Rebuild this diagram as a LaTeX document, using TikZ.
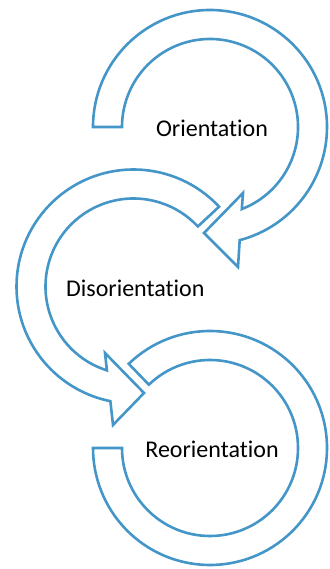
\documentclass[tikz,border=0pt]{standalone}
\usepackage{fontspec}
\setmainfont[Ligatures=NoCommon]{Carlito}
\definecolor{arrowblue}{RGB}{68,150,200}
\begin{document}
\begin{tikzpicture}[x=1pt,y=1pt,
  circarrow/.style={draw=arrowblue,line width=2.6pt,fill=white,line join=miter},
  lbl/.style={font=\fontsize{24}{28}\selectfont,text=black,anchor=base,inner sep=0pt}]
\useasboundingbox (0,0) rectangle (329,569);
% circle 1: Orientation
\begin{scope}[shift={(210,442)}]
  \coordinate (c1) at (0,0);
  \draw[circarrow] (180:117) arc[start angle=180,end angle=-75.3,radius=117]
    -- (28,-140) -- (-6,-106) -- (33,-66)
    -- (-68.8:88) arc[start angle=-68.8,end angle=180,radius=88] -- cycle;
\end{scope}
% circle 2: Disorientation
\begin{scope}[shift={(133.5,282.5)}]
  \coordinate (c2) at (0,0);
  \draw[circarrow] (43:117) arc[start angle=43,end angle=258.6,radius=117]
    -- (-20.5,-138.5) -- (10.5,-106.5) -- (-28.5,-66.5)
    -- (252.4:88) arc[start angle=252.4,end angle=43,radius=88] -- cycle;
\end{scope}
% circle 3: Reorientation
\begin{scope}[shift={(210,121)}]
  \coordinate (c3) at (0,0);
  \draw[circarrow] (134:117) arc[start angle=134,end angle=-180,radius=117]
    -- (180:88) arc[start angle=-180,end angle=134,radius=88] -- cycle;
\end{scope}
\node[lbl] (t1) at (212,432) {Orientation};
\node[lbl] (t2) at (135.3,272.3) {Disorientation};
\node[lbl] (t3) at (212,111.3) {Reorientation};
\end{tikzpicture}
\end{document}
